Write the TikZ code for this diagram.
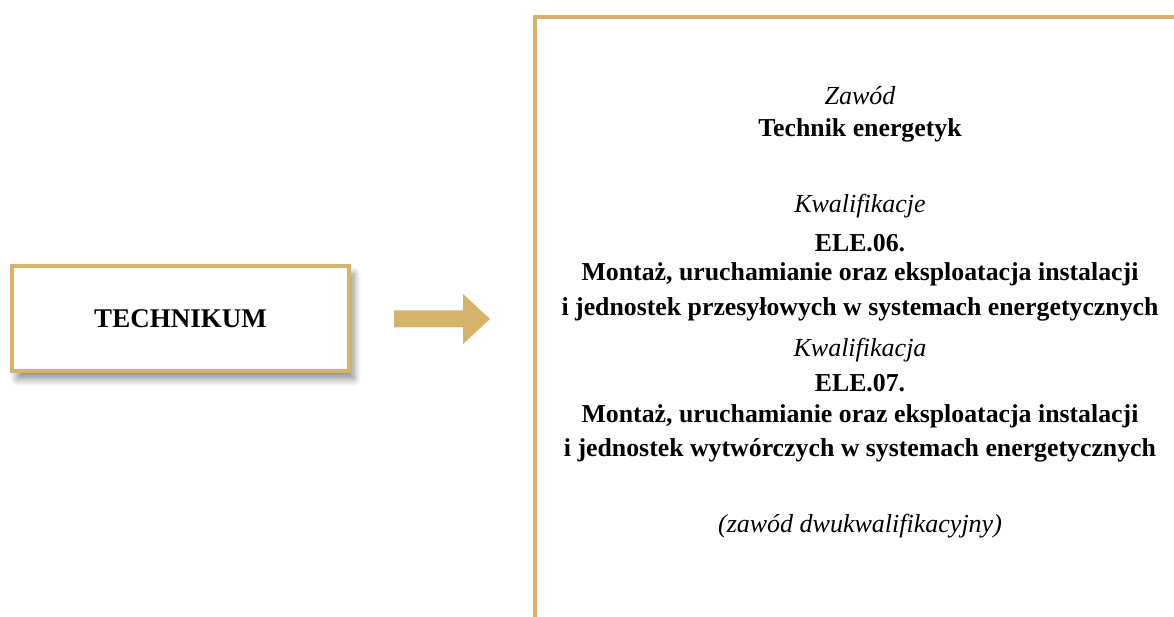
\documentclass[tikz,border=0pt]{standalone}
\usepackage{fontspec}
\setmainfont{Liberation Serif}
\usetikzlibrary{shadows.blur}
\definecolor{gold}{RGB}{214,179,106}
\begin{document}
\begin{tikzpicture}[x=1pt,y=1pt,
  txt/.style={inner sep=0pt, anchor=center, font=\fontsize{26}{30}\selectfont},
  itx/.style={txt, font=\fontsize{26}{30}\selectfont\itshape},
  btx/.style={txt, font=\fontsize{25.8}{30}\selectfont\bfseries}]
\useasboundingbox (0,0) rectangle (1174,617);
% left box
\node[draw=gold, line width=4pt, fill=white, minimum width=337pt, minimum height=105pt,
  blur shadow={shadow xshift=5pt, shadow yshift=-8pt, shadow blur radius=7pt, shadow blur steps=10, shadow opacity=45},
  font=\fontsize{27}{30}\selectfont\bfseries, inner sep=0pt] (tech) at (180.5,298.5) {\raisebox{-2pt}{TECHNIKUM}};
% arrow
\coordinate (as) at (394,298);
\coordinate (ae) at (490,298);
\fill[gold] (394,306.5) -- (463,306.5) -- (463,323) -- (490,298) -- (463,273) -- (463,289.5) -- (394,289.5) -- cycle;
% right frame
\draw[gold, line width=4.5pt] (535,0) -- (535,600) -- (1174,600);
% texts
\node[itx] (zaw) at (860,521) {Zawód};
\node[btx] (te) at (860,487) {Technik energetyk};
\node[itx] (k1) at (860,411) {Kwalifikacje};
\node[btx] (e6) at (860,374) {ELE.06.};
\node[btx] (m6) at (860,343) {Montaż, uruchamianie oraz eksploatacja instalacji};
\node[btx] (j6) at (860,308) {i jednostek przesyłowych w systemach energetycznych};
\node[itx] (k2) at (860,267) {Kwalifikacja};
\node[btx] (e7) at (860,234) {ELE.07.};
\node[btx] (m7) at (860,201) {Montaż, uruchamianie oraz eksploatacja instalacji};
\node[btx] (j7) at (860,167) {i jednostek wytwórczych w systemach energetycznych};
\node[itx] (dw) at (860,91) {(zawód dwukwalifikacyjny)};
\end{tikzpicture}
\end{document}
